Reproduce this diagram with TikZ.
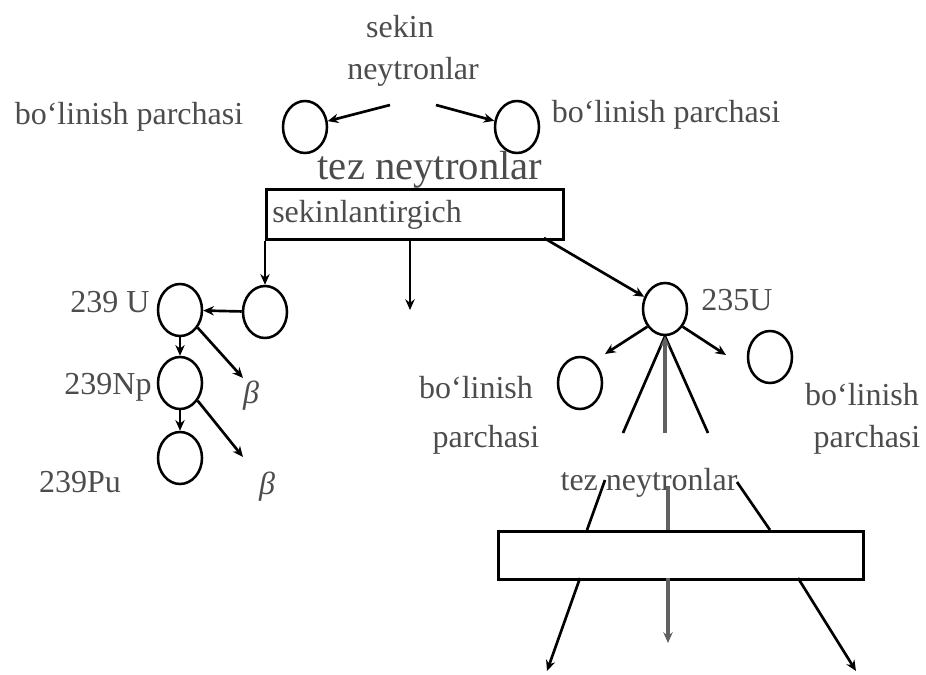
\documentclass[tikz,border=0pt]{standalone}
\usepackage{fontspec}
\setmainfont[Ligatures=ResetAll]{Liberation Serif}
\usetikzlibrary{arrows.meta,calc,shapes.geometric}
\tikzset{
  txt/.style={inner sep=0pt, text=black!70, font=\fontsize{24}{27}\selectfont},
  bigtxt/.style={inner sep=0pt, text=black!70, font=\fontsize{30.5}{34}\selectfont},
  atom/.style={draw, ellipse, line width=1.9pt, minimum width=33pt, minimum height=39pt, inner sep=0pt},
  slab/.style={draw, rectangle, line width=2pt, inner sep=0pt, anchor=north west},
  ln/.style={line width=2pt},
  arr/.style={line width=2pt, -{Stealth[length=8pt,width=7pt]}},
  grayln/.style={line width=2.6pt, draw=black!62},
}
\begin{document}
\begin{tikzpicture}[x=0.75pt,y=-0.75pt]
\useasboundingbox (0,0) rectangle (926,675);
% top texts
\node[txt] (sekin) at (400,27) {sekin};
\node[txt] (neyt) at (413,72) {neytronlar};
\coordinate (s1) at (390,105);
\coordinate (s2) at (436,105);
\node[atom] (fl) at (305,127) {};
\node[atom] (fr) at (517,127) {};
\node[txt] (lbl1) at (129,117) {bo`linish parchasi};
\node[txt] (lbl2) at (666,115) {bo`linish parchasi};
\draw[arr] (s1) -- (fl);
\draw[arr] (s2) -- (fr);
\node[bigtxt] (tez1) at (430,170) {tez neytronlar};
% moderator box
\node[slab, minimum width=222.75pt, minimum height=37.5pt] (box1) at (265,188) {};
\node[txt, anchor=west] (sek) at (272,215) {sekinlantirgich};
% left chain
\node[atom] (n1) at (265,312) {};
\node[atom] (u239) at (180,310) {};
\node[atom] (np) at (180,383) {};
\node[atom] (pu) at (180,458) {};
\node[txt] (lu) at (110,302) {239 U};
\node[txt] (lnp) at (108,387) {239Np};
\node[txt] (lpu) at (80,482) {239Pu};
\coordinate (b1) at (243,378);
\coordinate (b2) at (243,457);
\node[txt, font=\fontsize{24}{27}\selectfont\itshape] (beta1) at (251,396) {β};
\node[txt, font=\fontsize{24}{27}\selectfont\itshape] (beta2) at (267,487) {β};
\draw[arr] (box1.south west) -- (n1);
\draw[arr] (n1) -- (u239);
\draw[arr] (u239) -- (np);
\draw[arr] (np) -- (pu);
\draw[arr] (u239.-45) -- (b1);
\draw[arr] (np.-45) -- (b2);
% middle
\coordinate (bm) at (410,310);
\draw[arr] (410,238) -- (bm);
% 235U
\node[atom] (u235) at (665,309) {};
\node[txt] (l235) at (737,300) {235U};
\coordinate (bse) at (544,238);
\draw[arr] (bse) -- (u235);
\coordinate (fa) at (605,354);
\coordinate (fb) at (726,355);
\draw[arr] (u235.-135) -- (fa);
\draw[arr] (u235.-45) -- (fb);
\node[atom] (fp1) at (580,383) {};
\node[atom] (fp2) at (770,357) {};
\node[txt] (fp1a) at (476,388) {bo`linish};
\node[txt] (fp1b) at (486,440) {parchasi};
\node[txt] (fp2a) at (862,395) {bo`linish};
\node[txt] (fp2b) at (867,440) {parchasi};
\coordinate (t1) at (623,433);
\coordinate (t2) at (665,433);
\coordinate (t3) at (708,433);
\draw[ln] (u235.south) -- (t1);
\draw[ln] (u235.south) -- (t3);
\draw[grayln, -{Stealth[length=8pt,width=7pt]}] (t2) -- (u235.south);
\node[txt] (tez2) at (649,483) {tez neytronlar};
% bottom box
\node[slab, minimum width=273.75pt, minimum height=36pt] (box2) at (497,530) {};
\coordinate (i1) at (605,480);
\coordinate (i2) at (668,486);
\coordinate (i3) at (737,482);
\draw[ln] (i1) -- (587,530);
\draw[grayln] (i2) -- (668,530);
\draw[ln] (i3) -- (770,530);
\coordinate (o1) at (547,671);
\coordinate (o2) at (668,643);
\coordinate (o3) at (856,671);
\draw[arr] (580,578) -- (o1);
\draw[grayln, -{Stealth[length=8pt,width=7pt]}] (668,578) -- (o2);
\draw[arr] (798,578) -- (o3);
\end{tikzpicture}
\end{document}
